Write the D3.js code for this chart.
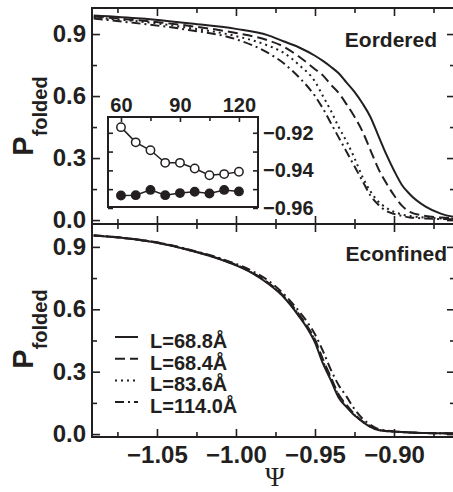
<!DOCTYPE html>
<html>
<head>
<meta charset="utf-8">
<script src="https://d3js.org/d3.v7.min.js"></script>
<style>
  body { margin: 0; background: #fff; }
  text { font-family: "Liberation Sans", Arial, sans-serif; font-weight: bold; fill: #231f20; }
</style>
</head>
<body>
<svg width="453" height="492"></svg>
<script>
// ---- data ----
var psiTop = [-1.09, -1.06, -1.03, -1.00, -0.98, -0.97, -0.96, -0.95, -0.945, -0.94, -0.935, -0.93,
              -0.925, -0.92, -0.915, -0.91, -0.905, -0.90, -0.895, -0.89, -0.88, -0.87, -0.86];
var orderedL688 = [0.99, 0.975, 0.952, 0.925, 0.895, 0.865, 0.835, 0.795, 0.77, 0.742, 0.71, 0.665,
                   0.62, 0.565, 0.50, 0.41, 0.32, 0.24, 0.17, 0.125, 0.065, 0.03, 0.012];
var orderedL684 = [0.985, 0.965, 0.94, 0.905, 0.87, 0.84, 0.79, 0.73, 0.70, 0.655, 0.615, 0.56,
                   0.50, 0.43, 0.34, 0.25, 0.18, 0.12, 0.07, 0.04, 0.02, 0.012, 0.008];
var orderedL836 = [0.98, 0.96, 0.93, 0.89, 0.845, 0.81, 0.75, 0.67, 0.60, 0.53, 0.45, 0.38,
                   0.30, 0.21, 0.14, 0.09, 0.06, 0.04, 0.027, 0.02, 0.012, 0.008, 0.005];
var orderedL1140 = [0.975, 0.95, 0.92, 0.875, 0.81, 0.76, 0.69, 0.60, 0.54, 0.47, 0.40, 0.33,
                    0.26, 0.19, 0.12, 0.075, 0.045, 0.03, 0.02, 0.013, 0.008, 0.005, 0.004];

var psiBot = [-1.09, -1.07, -1.05, -1.03, -1.01, -0.99, -0.98, -0.97, -0.96, -0.955, -0.95, -0.945,
              -0.94, -0.935, -0.93, -0.925, -0.92, -0.915, -0.91, -0.90, -0.89, -0.88, -0.87, -0.86];
var confinedL688 = [0.955, 0.942, 0.92, 0.885, 0.84, 0.775, 0.725, 0.66, 0.565, 0.51, 0.44, 0.34,
                    0.26, 0.175, 0.13, 0.09, 0.06, 0.035, 0.02, 0.012, 0.008, 0.005, 0.004, 0.003];
var confinedL684 = [0.955, 0.942, 0.921, 0.886, 0.842, 0.778, 0.73, 0.665, 0.575, 0.52, 0.455, 0.36,
                    0.275, 0.19, 0.14, 0.095, 0.062, 0.038, 0.022, 0.012, 0.008, 0.005, 0.004, 0.003];
var confinedL836 = [0.955, 0.942, 0.92, 0.885, 0.841, 0.776, 0.727, 0.662, 0.57, 0.515, 0.45, 0.35,
                    0.27, 0.185, 0.135, 0.092, 0.061, 0.036, 0.021, 0.012, 0.008, 0.005, 0.004, 0.003];
var confinedL1140 = [0.955, 0.943, 0.922, 0.888, 0.845, 0.785, 0.74, 0.675, 0.59, 0.54, 0.48, 0.40,
                     0.31, 0.235, 0.18, 0.12, 0.075, 0.045, 0.025, 0.013, 0.008, 0.005, 0.004, 0.003];

var legendLabels = ["L=68.8\u00C5", "L=68.4\u00C5", "L=83.6\u00C5", "L=114.0\u00C5"];

var insetX = [60, 67.5, 75, 82.5, 90, 97.5, 105, 112.5, 120];
var insetOpen = [-0.917, -0.9251, -0.9293, -0.936, -0.936, -0.939, -0.9426, -0.942, -0.9407];
var insetFilled = [-0.9534, -0.9532, -0.9504, -0.9532, -0.9521, -0.9514, -0.9523, -0.9504, -0.9512];

var xMajor = [-1.05, -1.00, -0.95, -0.90];
var xMinor = [-1.075, -1.025, -0.975, -0.925, -0.875];
var yMajor = [0.0, 0.3, 0.6, 0.9];
var yMinor = [0.15, 0.45, 0.75];
var insetXMajor = [60, 90, 120];
var insetXMinor = [75, 105];
var insetYMajor = [-0.96, -0.94, -0.92];
var insetYMinor = [-0.95, -0.93];

// ---- layout ----
var svg = d3.select("svg");
var left = 92, right = 455;
var dashes = [null, "10,5", "2,4", "9,4,2,4"];
var ink = "#231f20";

var x = d3.scaleLinear().domain([-1.0911, -0.8614]).range([left, right]);
var yTop = d3.scaleLinear().domain([-0.019, 1.026]).range([224, 8]);
var yBot = d3.scaleLinear().domain([-0.014, 1.01]).range([437, 224]);

function styleAxis(g, size) {
    g.select(".domain").remove();
    g.selectAll("line").attr("stroke", ink).attr("stroke-width", 1.6);
    g.selectAll("text").attr("fill", ink)
        .style("font-size", size + "px")
        .style("font-family", "'Liberation Sans', Arial, sans-serif")
        .style("font-weight", "bold");
}

function panel(y, psi, seriesList, name, clipId, showXLabels, labelY) {
    var top = y.range()[1], bottom = y.range()[0];

    svg.append("clipPath").attr("id", clipId)
        .append("rect").attr("x", left).attr("y", top).attr("width", right - left).attr("height", bottom - top);

    var line = d3.line()
        .x(function(d) { return x(d[0]); })
        .y(function(d) { return y(d[1]); })
        .curve(d3.curveMonotoneX);

    var g = svg.append("g").attr("clip-path", "url(#" + clipId + ")");
    seriesList.forEach(function(vals, i) {
        g.append("path")
            .datum(psi.map(function(p, k) { return [p, vals[k]]; }))
            .attr("d", line)
            .attr("fill", "none")
            .attr("stroke", ink)
            .attr("stroke-width", 2)
            .attr("stroke-dasharray", dashes[i]);
    });

    // left axis with labels
    svg.append("g").attr("transform", "translate(" + left + ",0)")
        .call(d3.axisLeft(y).tickValues(yMajor).tickFormat(d3.format(".1f"))
            .tickSizeInner(-8).tickSizeOuter(0).tickPadding(6))
        .call(styleAxis, 24);
    svg.append("g").attr("transform", "translate(" + left + ",0)")
        .call(d3.axisLeft(y).tickValues(yMinor).tickFormat("").tickSizeInner(-5).tickSizeOuter(0))
        .call(styleAxis, 24);
    // right axis ticks
    svg.append("g").attr("transform", "translate(" + right + ",0)")
        .call(d3.axisRight(y).tickValues(yMajor).tickFormat("").tickSizeInner(-8).tickSizeOuter(0))
        .call(styleAxis, 24);
    svg.append("g").attr("transform", "translate(" + right + ",0)")
        .call(d3.axisRight(y).tickValues(yMinor).tickFormat("").tickSizeInner(-5).tickSizeOuter(0))
        .call(styleAxis, 24);
    // top ticks
    svg.append("g").attr("transform", "translate(0," + top + ")")
        .call(d3.axisTop(x).tickValues(xMajor).tickFormat("").tickSizeInner(-8).tickSizeOuter(0))
        .call(styleAxis, 24);
    svg.append("g").attr("transform", "translate(0," + top + ")")
        .call(d3.axisTop(x).tickValues(xMinor).tickFormat("").tickSizeInner(-5).tickSizeOuter(0))
        .call(styleAxis, 24);
    // bottom ticks
    svg.append("g").attr("transform", "translate(0," + bottom + ")")
        .call(d3.axisBottom(x).tickValues(xMajor)
            .tickFormat(showXLabels ? d3.format(".2f") : "")
            .tickSizeInner(-8).tickSizeOuter(0).tickPadding(9))
        .call(styleAxis, 24);
    svg.append("g").attr("transform", "translate(0," + bottom + ")")
        .call(d3.axisBottom(x).tickValues(xMinor).tickFormat("").tickSizeInner(-5).tickSizeOuter(0))
        .call(styleAxis, 24);

    // frame
    svg.append("rect")
        .attr("x", left).attr("y", top)
        .attr("width", right - left).attr("height", bottom - top)
        .attr("fill", "none").attr("stroke", ink).attr("stroke-width", 2);

    // panel name
    svg.append("text")
        .attr("x", name.x).attr("y", name.y)
        .attr("text-anchor", "end")
        .style("font-size", "21px")
        .text(name.text);

    // y label
    var lab = svg.append("text")
        .attr("transform", "translate(33," + labelY + ") rotate(-90)")
        .attr("text-anchor", "middle");
    lab.append("tspan").style("font-size", "29px").text("P");
    lab.append("tspan").attr("dy", 14).style("font-size", "20px").text("folded");
}

panel(yTop, psiTop, [orderedL688, orderedL684, orderedL836, orderedL1140],
      {text: "Eordered", x: 437, y: 47}, "clipTop", false, 116);
panel(yBot, psiBot, [confinedL688, confinedL684, confinedL836, confinedL1140],
      {text: "Econfined", x: 447, y: 261}, "clipBot", true, 329);

// x label
svg.append("text")
    .attr("x", 275).attr("y", 486)
    .attr("text-anchor", "middle")
    .style("font-family", "'Liberation Serif', 'DejaVu Serif', serif")
    .style("font-weight", "normal")
    .style("font-size", "27px")
    .text("\u03A8");

// legend
var legend = svg.append("g");
legendLabels.forEach(function(lbl, i) {
    var by = 348 + i * 21.7;
    legend.append("line")
        .attr("x1", 115).attr("x2", 138)
        .attr("y1", by - 11).attr("y2", by - 11)
        .attr("stroke", ink).attr("stroke-width", 2)
        .attr("stroke-dasharray", dashes[i]);
    legend.append("text")
        .attr("x", 150).attr("y", by)
        .style("font-size", "20px")
        .text(lbl);
});

// ---- inset ----
var ix = d3.scaleLinear().domain([53.4, 129.7]).range([108, 258]);
var iy = d3.scaleLinear().domain([-0.9595, -0.9116]).range([207, 117]);

svg.append("rect")
    .attr("x", 108).attr("y", 117).attr("width", 150).attr("height", 90)
    .attr("fill", "#fff");

svg.append("g").attr("transform", "translate(0,117)")
    .call(d3.axisTop(ix).tickValues(insetXMajor).tickFormat(d3.format("d"))
        .tickSizeInner(-5).tickSizeOuter(0).tickPadding(5))
    .call(styleAxis, 20);
svg.append("g").attr("transform", "translate(0,117)")
    .call(d3.axisTop(ix).tickValues(insetXMinor).tickFormat("").tickSizeInner(-4).tickSizeOuter(0))
    .call(styleAxis, 20);
svg.append("g").attr("transform", "translate(258,0)")
    .call(d3.axisRight(iy).tickValues(insetYMajor).tickFormat(d3.format(".2f"))
        .tickSizeInner(-5).tickSizeOuter(0).tickPadding(5))
    .call(styleAxis, 20);
svg.append("g").attr("transform", "translate(258,0)")
    .call(d3.axisRight(iy).tickValues(insetYMinor).tickFormat("").tickSizeInner(-5).tickSizeOuter(0))
    .call(styleAxis, 20);
svg.append("g").attr("transform", "translate(108,0)")
    .call(d3.axisLeft(iy).tickValues(insetYMajor.concat(insetYMinor)).tickFormat("").tickSizeInner(-5).tickSizeOuter(0))
    .call(styleAxis, 20);

svg.append("rect")
    .attr("x", 108).attr("y", 117).attr("width", 150).attr("height", 90)
    .attr("fill", "none").attr("stroke", ink).attr("stroke-width", 2);

var iline = d3.line()
    .x(function(d) { return ix(d[0]); })
    .y(function(d) { return iy(d[1]); });

[[insetOpen, "#fff"], [insetFilled, ink]].forEach(function(s) {
    var pts = insetX.map(function(v, k) { return [v, s[0][k]]; });
    svg.append("path").datum(pts)
        .attr("d", iline)
        .attr("fill", "none").attr("stroke", ink).attr("stroke-width", 1.5);
    svg.append("g").selectAll("circle")
        .data(pts)
        .enter().append("circle")
        .attr("cx", function(d) { return ix(d[0]); })
        .attr("cy", function(d) { return iy(d[1]); })
        .attr("r", 4.2)
        .attr("fill", s[1])
        .attr("stroke", ink).attr("stroke-width", 1.5);
});
</script>
</body>
</html>
